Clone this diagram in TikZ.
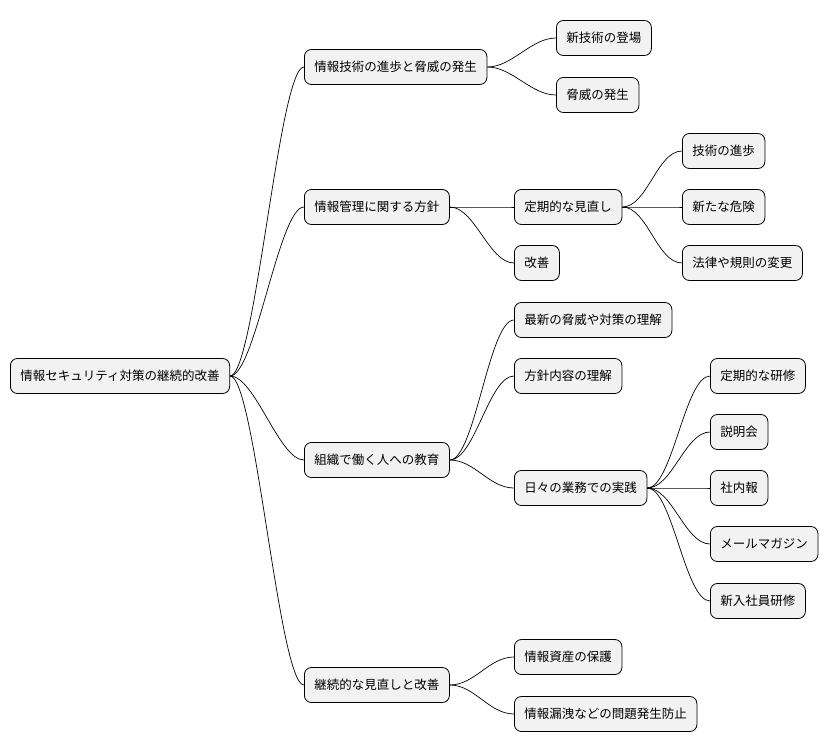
\documentclass[tikz,border=0pt]{standalone}
\usepackage{fontspec}
\setmainfont{Noto Sans CJK JP}
\begin{document}
\begin{tikzpicture}[x=1pt,y=-1pt,
  box/.style={draw=black,line width=0.8pt,fill=black!5,rounded corners=7pt,anchor=west,
    minimum height=35pt,inner xsep=10pt,font=\fontsize{12.5}{15}\selectfont},
  link/.style={draw=black,line width=0.7pt}]
\useasboundingbox (0,0) rectangle (838,752);
\node[box] (r) at (10,376) {情報セキュリティ対策の継続的改善};
\node[box] (a) at (304,67) {情報技術の進歩と脅威の発生};
\node[box] (b) at (304,207) {情報管理に関する方針};
\node[box] (c) at (304,460) {組織で働く人への教育};
\node[box] (d) at (304,685) {継続的な見直しと改善};
\node[box] (a1) at (556,38) {新技術の登場};
\node[box] (a2) at (556,95) {脅威の発生};
\node[box] (b1) at (514,207) {定期的な見直し};
\node[box] (b2) at (514,263) {改善};
\node[box] (b11) at (682,151) {技術の進歩};
\node[box] (b12) at (682,207) {新たな危険};
\node[box] (b13) at (682,263) {法律や規則の変更};
\node[box] (c1) at (514,320) {最新の脅威や対策の理解};
\node[box] (c2) at (514,376) {方針内容の理解};
\node[box] (c3) at (514,488) {日々の業務での実践};
\node[box] (c31) at (710,376) {定期的な研修};
\node[box] (c32) at (710,432) {説明会};
\node[box] (c33) at (710,488) {社内報};
\node[box] (c34) at (710,544) {メールマガジン};
\node[box] (c35) at (710,601) {新入社員研修};
\node[box] (d1) at (514,657) {情報資産の保護};
\node[box] (d2) at (514,714) {情報漏洩などの問題発生防止};
\foreach \p/\c in {r/a,r/b,r/c,r/d,a/a1,a/a2,b/b1,b/b2,b1/b11,b1/b12,b1/b13,
  c/c1,c/c2,c/c3,c3/c31,c3/c32,c3/c33,c3/c34,c3/c35,d/d1,d/d2}
  \draw[link] (\p.east) .. controls +(25,0) and +(-25,0) .. (\c.west);
\end{tikzpicture}
\end{document}
